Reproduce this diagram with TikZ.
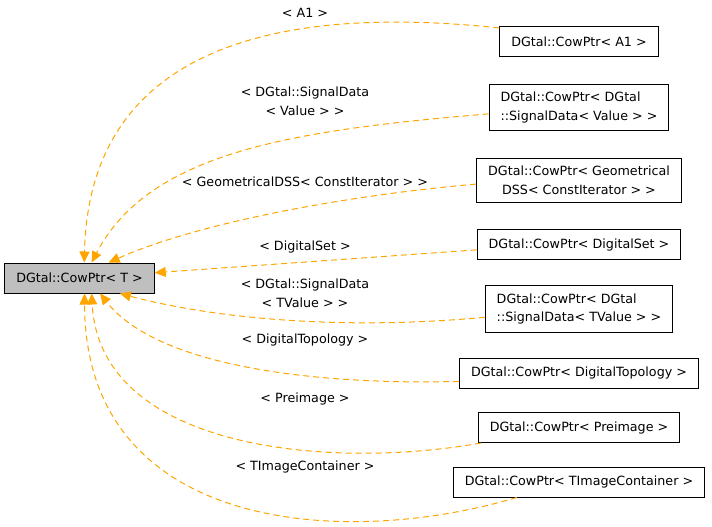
\documentclass[tikz,border=0pt]{standalone}
\usepackage{fontspec}
\setmainfont{DejaVu Sans}
\usepackage{tikz}
\usetikzlibrary{arrows.meta}
\definecolor{edgeor}{RGB}{255,165,0}
\definecolor{basegray}{RGB}{191,191,191}
\tikzstyle{cls} = [rectangle, draw=black, line width=1pt, fill=white, minimum height=30pt, inner xsep=11.5pt, inner ysep=8pt, font=\fontsize{12.7}{18.5}\selectfont]
\tikzstyle{basecls} = [cls, fill=basegray]
\tikzstyle{lbl} = [align=center, inner sep=0pt, font=\fontsize{12.7}{18.5}\selectfont]
\tikzstyle{arrow} = [edgeor, line width=1pt, dash pattern=on 6pt off 4pt, -{Triangle[length=11pt,width=10pt]}]

\begin{document}
\begin{tikzpicture}
				[x=1pt, y=-1pt, node distance=64pt]
				\useasboundingbox (0,0) rectangle (712,527);

				\node (base) [basecls] at (79.5,278) {DGtal::CowPtr< T >};

				\node (a1) [cls] at (579,42) {DGtal::CowPtr< A1 >};
				\node (val) [cls, align=left, below of=a1, yshift=-1.5pt] {DGtal::CowPtr< DGtal\\::SignalData< Value > >};
				\node (dss) [cls, align=center, below of=val, yshift=-9pt] {DGtal::CowPtr< Geometrical\\DSS< ConstIterator > >};
				\node (set) [cls, below of=dss] {DGtal::CowPtr< DigitalSet >};
				\node (tval) [cls, align=left, below of=set, yshift=-0.5pt] {DGtal::CowPtr< DGtal\\::SignalData< TValue > >};
				\node (topo) [cls, below of=tval] {DGtal::CowPtr< DigitalTopology >};
				\node (pre) [cls, below of=topo, yshift=9.5pt] {DGtal::CowPtr< Preimage >};
				\node (tic) [cls, below of=pre, yshift=9.5pt] {DGtal::CowPtr< TImageContainer >};

				% template arguments
				\node (la1) [lbl] at (305,13) {< A1 >};
				\node (lval) [lbl] at (305,101.5) {< DGtal::SignalData\\< Value > >};
				\node (ldss) [lbl] at (305,181.5) {< GeometricalDSS< ConstIterator > >};
				\node (lset) [lbl] at (305,247) {< DigitalSet >};
				\node (ltval) [lbl] at (305,293.5) {< DGtal::SignalData\\< TValue > >};
				\node (ltopo) [lbl] at (305,340) {< DigitalTopology >};
				\node (lpre) [lbl] at (305,399) {< Preimage >};
				\node (ltic) [lbl] at (305,467) {< TImageContainer >};

				\draw [arrow] (a1.170) .. controls (330,10) and (90,20) .. (base.73);
				\draw [arrow] (val.184) .. controls (300,130) and (150,150) .. (base.52);
				\draw [arrow] (dss.182) .. controls (350,195) and (200,222) .. (base.28);
				\draw [arrow] (set.183) -- (base.4);
				\draw [arrow] (tval.185.5) .. controls (350,330) and (220,320) .. (base.-21);
				\draw [arrow] (topo.184.7) .. controls (330,385) and (160,370) .. (base.-37);
				\draw [arrow] (pre.189) .. controls (330,470) and (100,450) .. (base.-52);
				\draw [arrow] (tic.194.6) .. controls (340,550) and (85,530) .. (base.-72);
			\end{tikzpicture}
\end{document}
